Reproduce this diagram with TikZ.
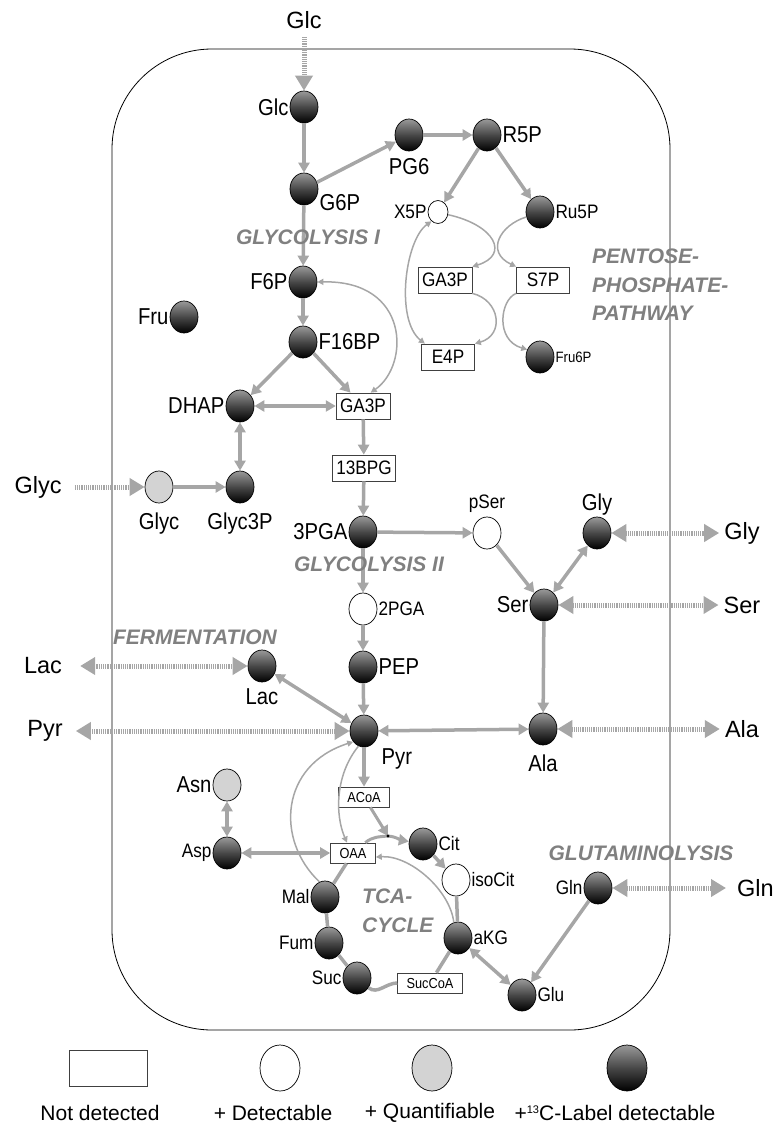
\documentclass[tikz,border=0pt]{standalone}
\usepackage{fontspec}
\setmainfont{Liberation Sans}
\newfontfamily\narrowsf[FakeStretch=0.88]{Liberation Sans}
\usetikzlibrary{arrows.meta,shapes.geometric,positioning}
\definecolor{flowgray}{RGB}{166,166,166}
\definecolor{titlegray}{RGB}{128,128,128}
\definecolor{quantgray}{RGB}{211,211,211}
\tikzset{
  bigtxt/.style={font=\narrowsf\fontsize{23}{23}\selectfont, inner sep=1pt},
  midtxt/.style={font=\narrowsf\fontsize{19.5}{20}\selectfont, inner sep=1pt},
  smltxt/.style={font=\narrowsf\fontsize{15}{15}\selectfont, inner sep=1pt},
  ext/.style={font=\fontsize{23.5}{24}\selectfont, inner sep=1pt},
  keytext/.style={font=\fontsize{21}{21}\selectfont, inner sep=1pt},
  pathway/.style={font=\bfseries\itshape\fontsize{21}{28.5}\selectfont, text=titlegray, inner sep=0pt, align=left},
  labeled/.style={ellipse, draw=black, line width=0.7pt, minimum width=28pt, minimum height=32pt, inner sep=0pt,
    top color=black!40, bottom color=black, middle color=black!72},
  detect/.style={ellipse, draw=black, line width=0.7pt, fill=white, minimum width=28pt, minimum height=32pt, inner sep=0pt},
  quant/.style={detect, fill=quantgray},
  notdet/.style={rectangle, draw=black!75, line width=0.7pt, fill=white, font=\narrowsf\fontsize{19.5}{20}\selectfont,
    minimum width=53pt, minimum height=26pt, inner xsep=4pt, inner ysep=2pt},
  notdetsm/.style={notdet, font=\narrowsf\fontsize{14.5}{15}\selectfont, minimum width=0pt, minimum height=20pt, inner xsep=9pt},
  flow/.style={draw=flowgray, line width=3.5pt, >={Triangle[length=10pt,width=11pt]}, ->},
  flowboth/.style={flow, <->},
  link/.style={draw=flowgray, line width=3.5pt},
  sideflow/.style={draw=flowgray, line width=1.5pt, >={Triangle[length=6pt,width=6pt]}, ->},
  sideboth/.style={sideflow, <->},
  transport/.style={draw=flowgray, line width=5pt, dash pattern=on 1.2pt off 1pt, >={Triangle[length=15pt,width=17pt]}, ->},
  transboth/.style={transport, <->}
}
\begin{document}
\begin{tikzpicture}[x=1pt, y=-1pt]
\useasboundingbox (0,0) rectangle (775,1124);
\draw[line width=0.8pt, rounded corners=100pt] (112,49) rectangle (670,1030);

\node[labeled, label={[bigtxt]left:Glc}] (glc) at (304,107) {};
\node[labeled, label={[bigtxt,yshift=-14pt]right:G6P}] (g6p) at (304,189) {};
\node[labeled, label={[bigtxt,label distance=6pt]below:PG6}] (pg6) at (409,135) {};
\node[labeled, label={[bigtxt]right:R5P}] (r5p) at (487,135) {};
\node[detect, minimum width=20pt, minimum height=23pt, label={[midtxt]left:X5P}] (x5p) at (438,212) {};
\node[labeled, label={[midtxt]right:Ru5P}] (ru5p) at (540,212) {};
\node[notdet] (ga3pp) at (445,280) {GA3P};
\node[notdet] (s7p) at (543,280) {S7P};
\node[notdet] (e4p) at (448,357) {E4P};
\node[labeled, label={[smltxt]right:Fru6P}] (fru6p) at (540,357) {};
\node[labeled, label={[bigtxt]left:F6P}] (f6p) at (303,282) {};
\node[labeled, label={[bigtxt]left:Fru}] (fru) at (184,317) {};
\node[labeled, label={[bigtxt]right:F16BP}] (f16bp) at (303,342) {};
\node[labeled, label={[bigtxt]left:DHAP}] (dhap) at (240,406) {};
\node[notdet] (ga3p) at (363,406) {GA3P};
\node[notdet] (bpg) at (364,468) {13BPG};
\node[quant, label={[bigtxt,label distance=8pt]below:Glyc}] (glyc) at (159,487) {};
\node[labeled, label={[bigtxt,label distance=8pt]below:Glyc3P}] (glyc3p) at (240,487) {};
\node[labeled, label={[bigtxt]left:3PGA}] (pga3) at (363,532) {};
\node[detect, label={[midtxt]right:2PGA}] (pga2) at (363,609) {};
\node[labeled, label={[bigtxt]right:PEP}] (pep) at (363,667) {};
\node[labeled, label={[bigtxt,label distance=5pt]below:Lac}] (lac) at (262,666) {};
\node[labeled, label={[bigtxt,label distance=8pt]below right:Pyr}] (pyr) at (364,731) {};
\node[detect, label={[midtxt,label distance=3pt]above:pSer}] (pser) at (487,533) {};
\node[labeled, label={[bigtxt]above:Gly}] (gly) at (597,533) {};
\node[labeled, label={[bigtxt]left:Ser}] (ser) at (544,605) {};
\node[labeled, label={[bigtxt,label distance=8pt]below:Ala}] (ala) at (543,729) {};
\node[notdetsm] (acoa) at (364,797) {ACoA};
\node[notdetsm] (oaa) at (353,853) {OAA};
\node[labeled, label={[midtxt]right:Cit}] (cit) at (423,844) {};
\node[detect, label={[midtxt]right:isoCit}] (isocit) at (456,880) {};
\node[labeled, label={[midtxt]right:aKG}] (akg) at (458,938) {};
\node[notdetsm] (succoa) at (430,983) {SucCoA};
\node[labeled, label={[midtxt]left:Suc}] (suc) at (357,978) {};
\node[labeled, label={[midtxt]left:Fum}] (fum) at (329,943) {};
\node[labeled, label={[midtxt]left:Mal}] (mal) at (325,897) {};
\node[labeled, label={[midtxt]left:Asp}] (asp) at (227,853) {};
\node[quant, label={[bigtxt]left:Asn}] (asn) at (227,785) {};
\node[labeled, label={[midtxt]right:Glu}] (glu) at (522,995) {};
\node[labeled, label={[midtxt]left:Gln}] (gln) at (598,888) {};

\node[ext] (glcx) at (304,20) {Glc};
\node[ext] (glycx) at (38,487) {Glyc};
\node[ext] (lacx) at (43,666) {Lac};
\node[ext] (pyrx) at (45,731) {Pyr};
\node[ext] (glyx) at (742,533) {Gly};
\node[ext] (serx) at (742,605) {Ser};
\node[ext] (alax) at (742,729) {Ala};
\node[ext, anchor=west] (glnx) at (736,888) {Gln};

\draw[transport, shorten <=7pt] (glcx) -- (glc);
\draw[transport, shorten <=12pt] (glycx) -- (glyc);
\draw[transboth, shorten <=17pt] (lacx) -- (lac);
\draw[transboth, shorten <=12pt] (pyrx) -- (pyr);
\draw[transboth, shorten >=4pt] (gly) -- (glyx);
\draw[transboth, shorten >=4pt] (ser) -- (serx);
\draw[transboth, shorten >=4pt] (ala) -- (alax);
\draw[transboth, shorten >=10pt] (gln) -- (glnx);

\draw[flow] (glc) -- (g6p);
\draw[flow] (g6p) -- (pg6);
\draw[flow] (pg6) -- (r5p);
\draw[flow] (r5p) -- (x5p);
\draw[flow] (r5p) -- (ru5p);
\draw[flow] (g6p) -- (f6p);
\draw[flow] (f6p) -- (f16bp);
\draw[flow] (f16bp) -- (dhap);
\draw[flow] (f16bp) -- (ga3p);
\draw[flowboth] (dhap) -- (ga3p);
\draw[flowboth] (dhap) -- (glyc3p);
\draw[flow] (glyc) -- (glyc3p);
\draw[flow] (ga3p) -- (bpg);
\draw[flow] (bpg) -- (pga3);
\draw[flow] (pga3) -- (pser);
\draw[flow] (pga3) -- (pga2);
\draw[flow] (pga2) -- (pep);
\draw[flow] (pep) -- (pyr);
\draw[flow] (pser) -- (ser);
\draw[flowboth] (ser) -- (gly);
\draw[flow] (ser) -- (ala);
\draw[flowboth] (pyr) -- (ala);
\draw[flowboth] (lac) -- (pyr);
\draw[flow] (pyr) -- (acoa);
\draw[link, line width=3pt] (oaa.40) to[out=40, in=185] (388,836) coordinate (jn);
\draw[flow, line width=3pt] (jn) to[out=-5, in=170] (cit);
\draw[flow, line width=3pt] (acoa) -- (jn);
\fill (jn) circle (1.6pt);
\draw[flow] (cit) -- (isocit);
\draw[link] (isocit) -- (akg);
\draw[link] (akg) -- (succoa);
\draw[link] (suc) to[out=-40, in=180] (succoa.west);
\draw[link] (suc) -- (fum);
\draw[link] (fum) -- (mal);
\draw[link] (mal) -- (oaa);
\draw[flowboth] (asp) -- (oaa);
\draw[flowboth] (asn) -- (asp);
\draw[flowboth] (akg) -- (glu);
\draw[flow] (gln) -- (glu);

\draw[sideflow] (x5p.-15) .. controls (495,225) and (510,255) .. (ga3pp.north east);
\draw[sideflow] (ru5p.200) .. controls (500,225) and (485,252) .. (s7p.north west);
\draw[sideflow] (ga3pp.south east) .. controls (500,300) and (505,335) .. (e4p.north east);
\draw[sideflow] (s7p.south west) .. controls (500,300) and (495,340) .. (fru6p.150);
\draw[sideboth] (x5p.235) .. controls (405,240) and (395,320) .. (e4p.150);
\draw[sideboth] (f6p.east) .. controls (410,280) and (410,365) .. (ga3p.60);
\draw[sideflow] (mal.110) .. controls (275,840) and (280,765) .. (pyr.-135);
\draw[sideflow] (pyr.-110) .. controls (335,775) and (335,815) .. (oaa.120);
\draw[sideflow] (akg.105) .. controls (450,890) and (410,855) .. (oaa.-10);

\node[pathway] (glyco1) at (308,237) {GLYCOLYSIS I};
\node[pathway] (glyco2) at (369,564) {GLYCOLYSIS II};
\node[pathway, anchor=west] (ppp) at (592,285) {PENTOSE-\\PHOSPHATE-\\PATHWAY};
\node[pathway] (ferm) at (195,637) {FERMENTATION};
\node[pathway, anchor=west] (tca) at (362,911) {TCA-\\CYCLE};
\node[pathway] (glutam) at (641,853) {GLUTAMINOLYSIS};

\node[notdet, minimum width=78pt, minimum height=36pt] (keynd) at (108,1068) {};
\node[detect, minimum width=40pt, minimum height=46pt] (keydet) at (280,1068) {};
\node[quant, minimum width=40pt, minimum height=46pt] (keyqnt) at (432,1068) {};
\node[labeled, minimum width=40pt, minimum height=46pt] (keylab) at (627,1068) {};
\node[keytext] (keyndtxt) at (100,1113) {Not detected};
\node[keytext] (keydettxt) at (273,1113) {+ Detectable};
\node[keytext] (keyqnttxt) at (430,1113) {+ Quantifiable};
\node[keytext] (keylabtxt) at (615,1113) {+\raisebox{7pt}{\fontsize{11}{11}\selectfont 13}C-Label detectable};
\end{tikzpicture}
\end{document}
